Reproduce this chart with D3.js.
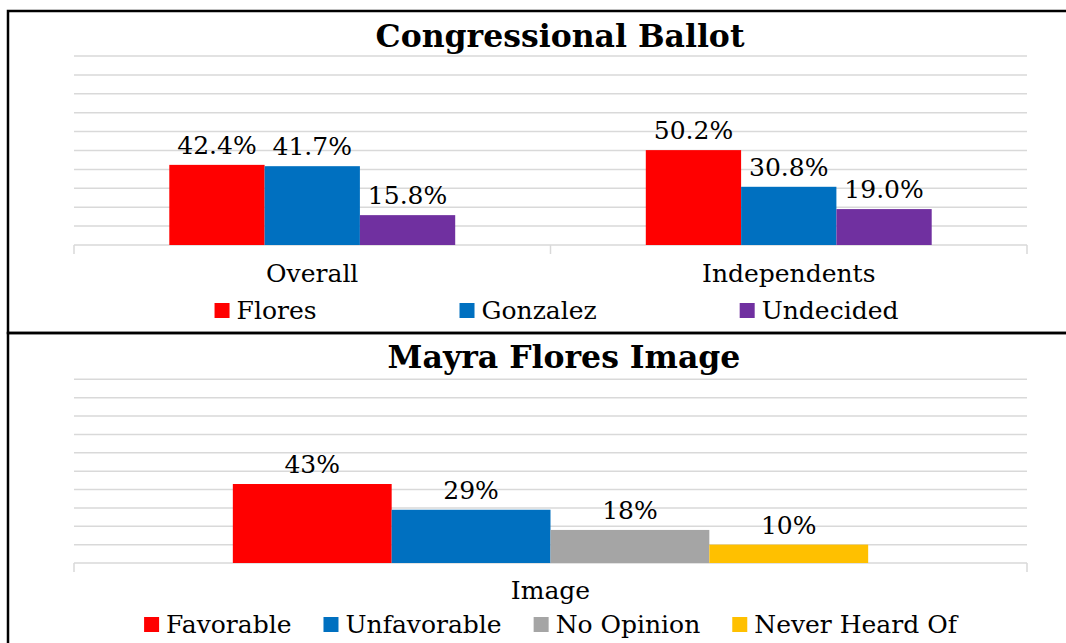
<!DOCTYPE html>
<html>
<head>
<meta charset="utf-8">
<script src="https://cdn.jsdelivr.net/npm/d3@7"></script>
<style>
  body { margin: 0; background: #fff; }
  text { font-family: "DejaVu Serif", Georgia, serif; fill: #000; }
</style>
</head>
<body>
<div id="container"></div>
<script>
/* DATA */
const ballotGroups = ["Overall", "Independents"];
const ballotSeries = ["Flores", "Gonzalez", "Undecided"];
const floresValues = [0.424, 0.502];
const gonzalezValues = [0.417, 0.308];
const undecidedValues = [0.158, 0.190];

const imageGroups = ["Image"];
const imageSeries = ["Favorable", "Unfavorable", "No Opinion", "Never Heard Of"];
const imageValues = [0.43, 0.29, 0.18, 0.10];

const gridTicks = d3.range(0, 1.01, 0.1);

/* CONSTANTS */
const width = 1066, height = 643;
const plotLeft = 74, plotRight = 1027;
const ballotColors = ["#FF0000", "#0070C0", "#7030A0"];
const imageColors = ["#FF0000", "#0070C0", "#A5A5A5", "#FFC000"];

const svg = d3.select("#container")
  .append("svg")
  .attr("width", width)
  .attr("height", height);

// frames
svg.append("rect")
  .attr("x", 8).attr("y", 11)
  .attr("width", 1100).attr("height", 322)
  .attr("fill", "none").attr("stroke", "#000").attr("stroke-width", 2.5);
svg.append("rect")
  .attr("x", 8).attr("y", 333)
  .attr("width", 1100).attr("height", 340)
  .attr("fill", "none").attr("stroke", "#000").attr("stroke-width", 2.5);

function drawPanel(cfg) {
  const g = svg.append("g");

  const x0 = d3.scaleBand()
    .domain(cfg.groups)
    .range([plotLeft, plotRight]);

  // bars fill the middle of each category, one bar width of gap on each side
  const x1 = d3.scaleBand()
    .domain(cfg.series)
    .range([0, x0.bandwidth()])
    .paddingInner(0)
    .paddingOuter(1);

  const y = d3.scaleLinear()
    .domain([0, 1])
    .range([cfg.bottom, cfg.top]);

  // title
  g.append("text")
    .attr("x", cfg.titleX)
    .attr("y", cfg.titleY)
    .attr("text-anchor", "middle")
    .attr("font-size", 31.5)
    .attr("font-weight", "bold")
    .text(cfg.title);

  // gridlines
  g.selectAll("line.grid")
    .data(gridTicks.slice(1))
    .join("line")
    .attr("class", "grid")
    .attr("x1", plotLeft).attr("x2", plotRight)
    .attr("y1", d => y(d)).attr("y2", d => y(d))
    .attr("stroke", "#D9D9D9")
    .attr("stroke-width", 1.5);

  // category axis
  const xAxis = d3.axisBottom(x0).tickSize(0).tickFormat("");
  const axisG = g.append("g")
    .attr("transform", `translate(0,${cfg.bottom})`)
    .call(xAxis);
  axisG.select(".domain").remove();

  const bounds = [plotLeft].concat(cfg.groups.map(d => x0(d) + x0.bandwidth()));
  g.append("line")
    .attr("x1", plotLeft).attr("x2", plotRight)
    .attr("y1", y(0)).attr("y2", y(0))
    .attr("stroke", "#D9D9D9").attr("stroke-width", 1.5);
  g.selectAll("line.tick-mark")
    .data(bounds)
    .join("line")
    .attr("class", "tick-mark")
    .attr("x1", d => d).attr("x2", d => d)
    .attr("y1", y(0)).attr("y2", y(0) + 9)
    .attr("stroke", "#D9D9D9").attr("stroke-width", 1.5);

  g.selectAll("text.cat")
    .data(cfg.groups)
    .join("text")
    .attr("class", "cat")
    .attr("x", d => x0(d) + x0.bandwidth() / 2)
    .attr("y", cfg.catY)
    .attr("text-anchor", "middle")
    .attr("font-size", 25)
    .text(d => d);

  // bars
  const rows = [];
  cfg.groups.forEach((grp, gi) => {
    cfg.series.forEach((s, si) => {
      rows.push({ grp, s, si, value: cfg.values[si][gi] });
    });
  });

  g.selectAll("rect.bar")
    .data(rows)
    .join("rect")
    .attr("class", "bar")
    .attr("x", d => x0(d.grp) + x1(d.s))
    .attr("width", x1.bandwidth())
    .attr("y", d => y(d.value))
    .attr("height", d => y(0) - y(d.value))
    .attr("fill", d => cfg.colors[d.si]);

  g.selectAll("text.label")
    .data(rows)
    .join("text")
    .attr("class", "label")
    .attr("x", d => x0(d.grp) + x1(d.s) + x1.bandwidth() / 2)
    .attr("y", d => y(d.value) - 11)
    .attr("text-anchor", "middle")
    .attr("font-size", 25)
    .text(d => cfg.format(d.value));

  // legend
  const legend = g.append("g");
  const items = legend.selectAll("g")
    .data(cfg.series)
    .join("g");
  items.append("rect")
    .attr("width", 15).attr("height", 15)
    .attr("y", -16)
    .attr("fill", (d, i) => cfg.colors[i]);
  items.append("text")
    .attr("x", 22)
    .attr("font-size", 25)
    .text(d => d);

  let cursor = 0;
  items.each(function () {
    const w = 22 + d3.select(this).select("text").node().getComputedTextLength();
    d3.select(this).attr("transform", `translate(${cursor},0)`);
    cursor += w + cfg.legendGap;
  });
  const total = cursor - cfg.legendGap;
  legend.attr("transform", `translate(${(plotLeft + plotRight) / 2 - total / 2 + cfg.legendShift},${cfg.legendY})`);
}

drawPanel({
  title: "Congressional Ballot",
  titleX: 560, titleY: 47,
  groups: ballotGroups,
  series: ballotSeries,
  values: [floresValues, gonzalezValues, undecidedValues],
  colors: ballotColors,
  format: d3.format(".1%"),
  top: 56, bottom: 245,
  catY: 282,
  legendY: 319, legendGap: 143, legendShift: 6
});

drawPanel({
  title: "Mayra Flores Image",
  titleX: 564, titleY: 368,
  groups: imageGroups,
  series: imageSeries,
  values: imageValues.map(v => [v]),
  colors: imageColors,
  format: d3.format(".0%"),
  top: 379.3, bottom: 563,
  catY: 599,
  legendY: 633, legendGap: 32, legendShift: 0
});
</script>
</body>
</html>
